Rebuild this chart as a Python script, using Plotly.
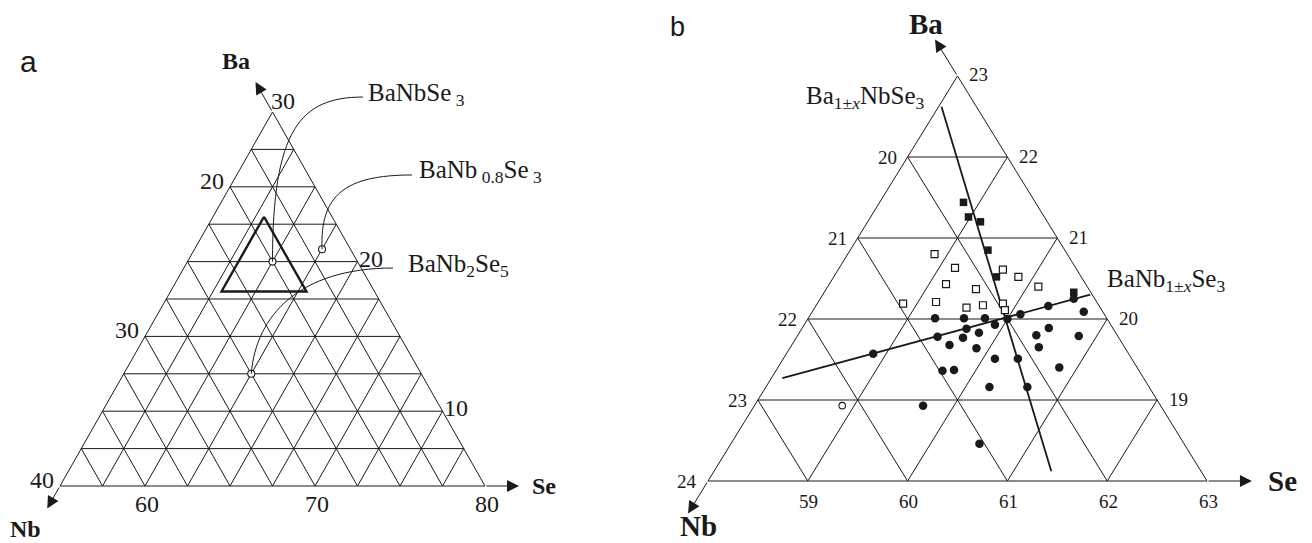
import plotly.graph_objects as go

W, H = 1312, 543
INK = "#1a1a1a"
SERIF = "Liberation Serif, Times New Roman, serif"
SANS = "Liberation Sans, Arial, sans-serif"
NB = "\u00a0"

# ---------------- panel a: Ba 5-30 / Se 55-80 / Nb 15-40 at.%, 2.5 at.% grid ----------------
A_MIN = {"Ba": 5.0, "Se": 55.0, "Nb": 15.0}
A_STEP = 2.5
A_TICKS_BA = [10, 20, 30]   # right edge
A_TICKS_NB = [20, 30, 40]   # left edge
A_TICKS_SE = [60, 70, 80]   # bottom edge

A_PHASE_LABELS = ["BaNbSe<sub>" + NB + "3</sub>",
                  "BaNb<sub>" + NB + "0.8</sub>Se<sub>" + NB + "3</sub>",
                  "BaNb<sub>2</sub>Se<sub>5</sub>"]
A_PHASE_BA = [20.0, 20.83, 12.5]
A_PHASE_SE = [60.0, 62.5, 62.5]

# ---------------- panel b: Ba 18-23 / Se 58-63 / Nb 19-24 at.%, 1 at.% grid ----------------
B_MIN = {"Ba": 18.0, "Se": 58.0, "Nb": 19.0}
B_STEP = 1.0
B_TICKS_BA = [19, 20, 21, 22, 23]
B_TICKS_NB = [20, 21, 22, 23, 24]
B_TICKS_SE = [59, 60, 61, 62, 63]

# measured compositions (Ba at.%, Se at.%)
FILLED_CIRCLE_BA = [20.01, 20.01, 20.01, 20.0, 20.06, 20.16, 20.25, 20.09, 19.93, 19.88,
                    19.83, 19.78, 19.77, 19.68, 19.64, 19.80, 19.89, 19.79, 19.65, 19.57,
                    19.51, 19.51, 19.36, 19.37, 19.40, 19.16, 19.16, 18.93, 18.46]
FILLED_CIRCLE_SE = [59.27, 59.56, 59.77, 60.0, 60.10, 60.33, 60.54, 60.72, 59.91, 59.65,
                    59.80, 59.41, 59.67, 59.58, 59.87, 60.39, 60.47, 60.82, 60.49, 58.87,
                    60.12, 60.35, 59.67, 59.78, 60.82, 60.24, 60.62, 59.69, 60.49]
FILLED_SQUARE_BA = [21.44, 21.26, 21.20, 20.85, 20.52, 20.33]
FILLED_SQUARE_SE = [58.84, 58.98, 59.13, 59.38, 59.63, 60.50]
OPEN_SQUARE_BA = [20.80, 20.63, 20.61, 20.52, 20.43, 20.37, 20.40, 20.19, 20.21, 20.14,
                  20.17, 20.19, 20.11]
OPEN_SQUARE_SE = [58.87, 59.16, 59.65, 59.85, 59.17, 59.50, 60.11, 58.86, 59.18, 59.52,
                  59.67, 59.86, 59.92]
OPEN_CIRCLE_BA = [18.93]
OPEN_CIRCLE_SE = [58.88]

# solid-solution lines through BaNbSe3 (end points, Ba / Se at.%)
LINE_BA_VAR_BA = [22.62, 18.12]     # Ba(1±x)NbSe3
LINE_BA_VAR_SE = [58.03, 61.38]
LINE_NB_VAR_BA = [19.27, 20.30]     # BaNb(1±x)Se3
LINE_NB_VAR_SE = [58.11, 60.68]


def tx(ba, se):
    """Horizontal position in the Gibbs triangle (Nb corner left, Se corner right)."""
    return se + ba / 2.0


def grid_xy(mins, step):
    ba0, se0, nb0 = mins["Ba"], mins["Se"], mins["Nb"]
    side = 100.0 - ba0 - se0 - nb0
    n = int(round(side / step))
    xs, ys = [], []

    def seg(p, q):
        xs.extend([tx(*p), tx(*q), None])
        ys.extend([p[0], q[0], None])

    for k in range(n):
        v = k * step
        b = ba0 + v
        seg((b, se0), (b, 100 - nb0 - b))            # constant Ba
        e = se0 + v
        seg((ba0, e), (100 - nb0 - e, e))            # constant Se
        m = nb0 + v
        seg((ba0, 100 - m - ba0), (100 - m - se0, se0))  # constant Nb
    return xs, ys


def axis_ranges(x0, px0, sx, y0, py0, sy):
    xr = [x0 - px0 / sx, x0 + (W - px0) / sx]
    yr = [y0 - (H - py0) / sy, y0 + py0 / sy]
    return xr, yr


A_XR, A_YR = axis_ranges(57.5, 60, 17.0, 5.0, 486, 14.96)
B_XR, B_YR = axis_ranges(67.0, 708, 99.8, 18.0, 481, 81.0)

fig = go.Figure()

# ---- panel a ----
gx, gy = grid_xy(A_MIN, A_STEP)
fig.add_trace(go.Scatter(x=gx, y=gy, mode="lines", line=dict(color=INK, width=1),
                         hoverinfo="skip", xaxis="x", yaxis="y"))
# region enlarged in panel b
tri_ba = [B_MIN["Ba"] + 5, B_MIN["Ba"], B_MIN["Ba"], B_MIN["Ba"] + 5]
tri_se = [B_MIN["Se"], B_MIN["Se"], B_MIN["Se"] + 5, B_MIN["Se"]]
fig.add_trace(go.Scatter(x=[tx(b, s) for b, s in zip(tri_ba, tri_se)], y=tri_ba, mode="lines",
                         line=dict(color=INK, width=2.4), hoverinfo="skip",
                         xaxis="x", yaxis="y"))

# ---- panel b ----
gx, gy = grid_xy(B_MIN, B_STEP)
fig.add_trace(go.Scatter(x=gx, y=gy, mode="lines", line=dict(color=INK, width=1),
                         hoverinfo="skip", xaxis="x2", yaxis="y2"))
for lb, ls in ((LINE_BA_VAR_BA, LINE_BA_VAR_SE), (LINE_NB_VAR_BA, LINE_NB_VAR_SE)):
    fig.add_trace(go.Scatter(x=[tx(b, s) for b, s in zip(lb, ls)], y=lb, mode="lines",
                             line=dict(color=INK, width=1.8), hoverinfo="skip",
                             xaxis="x2", yaxis="y2"))

fig.add_trace(go.Scatter(x=[tx(b, s) for b, s in zip(OPEN_SQUARE_BA, OPEN_SQUARE_SE)],
                         y=OPEN_SQUARE_BA, mode="markers",
                         marker=dict(symbol="square", size=7, color="white",
                                     line=dict(color=INK, width=1.2)),
                         xaxis="x2", yaxis="y2"))
fig.add_trace(go.Scatter(x=[tx(b, s) for b, s in zip(FILLED_SQUARE_BA, FILLED_SQUARE_SE)],
                         y=FILLED_SQUARE_BA, mode="markers",
                         marker=dict(symbol="square", size=7.5, color=INK),
                         xaxis="x2", yaxis="y2"))
fig.add_trace(go.Scatter(x=[tx(b, s) for b, s in zip(FILLED_CIRCLE_BA, FILLED_CIRCLE_SE)],
                         y=FILLED_CIRCLE_BA, mode="markers",
                         marker=dict(symbol="circle", size=8.5, color=INK),
                         xaxis="x2", yaxis="y2"))
fig.add_trace(go.Scatter(x=[tx(b, s) for b, s in zip(OPEN_CIRCLE_BA, OPEN_CIRCLE_SE)],
                         y=OPEN_CIRCLE_BA, mode="markers",
                         marker=dict(symbol="circle", size=6.5, color="white",
                                     line=dict(color=INK, width=1.1)),
                         xaxis="x2", yaxis="y2"))

# ---- panel a: phase markers and call-out curves ----
ph_x = [tx(b, s) for b, s in zip(A_PHASE_BA, A_PHASE_SE)]
# call-out: (control 1, control 2, end) in diagram units, label left edge
CALLOUTS = [((70.0, 28.8), (71.62, 31.0), (75.32, 31.0), 75.5),
            ((72.79, 24.45), (74.26, 25.79), (78.21, 25.79), 78.5),
            ((69.03, 16.43), (71.62, 19.57), (77.09, 19.57), 77.85)]
shapes = []
annotations = []
for (c1, c2, end, lab_x), x0, y0, label in zip(CALLOUTS, ph_x, A_PHASE_BA, A_PHASE_LABELS):
    path = f"M{x0},{y0} C{c1[0]},{c1[1]} {c2[0]},{c2[1]} {end[0]},{end[1]}"
    shapes.append(dict(type="path", path=path, xref="x", yref="y",
                       line=dict(color=INK, width=1)))
    annotations.append(dict(x=lab_x, y=end[1], xref="x", yref="y", text=label,
                            showarrow=False, xanchor="left", yanchor="middle", yshift=3,
                            font=dict(family=SERIF, size=25, color=INK)))
fig.add_trace(go.Scatter(x=ph_x, y=A_PHASE_BA, mode="markers",
                         marker=dict(symbol="circle", size=7, color="white",
                                     line=dict(color=INK, width=1.1)),
                         xaxis="x", yaxis="y"))


def tick_labels(mins, ticks_ba, ticks_nb, ticks_se, xr, yr, size, sh):
    out = []
    ba0, se0, nb0 = mins["Ba"], mins["Se"], mins["Nb"]
    top = max(ticks_ba)
    for v in ticks_ba:    # right edge, Nb constant
        se = 100 - nb0 - v
        dx, dy = sh["top"] if v == top else sh["right"]
        out.append(dict(x=tx(v, se), y=v, xref=xr, yref=yr, text=str(v), showarrow=False,
                        xanchor="left", yanchor="middle", xshift=dx, yshift=dy,
                        font=dict(family=SERIF, size=size, color=INK)))
    for v in ticks_nb:    # left edge, Se constant
        ba = 100 - v - se0
        dx, dy = sh["left"]
        out.append(dict(x=tx(ba, se0), y=ba, xref=xr, yref=yr, text=str(v), showarrow=False,
                        xanchor="right", yanchor="middle", xshift=dx, yshift=dy,
                        font=dict(family=SERIF, size=size, color=INK)))
    for v in ticks_se:    # bottom edge, Ba constant
        dx, dy = sh["bottom"]
        out.append(dict(x=tx(ba0, v), y=ba0, xref=xr, yref=yr, text=str(v), showarrow=False,
                        xanchor="center", yanchor="top", xshift=dx, yshift=dy,
                        font=dict(family=SERIF, size=size, color=INK)))
    return out


annotations += tick_labels(A_MIN, A_TICKS_BA, A_TICKS_NB, A_TICKS_SE, "x", "y", 24,
                           {"top": (-4, 11), "right": (-1, 3), "left": (-4, 6),
                            "bottom": (2, -3)})
annotations += tick_labels(B_MIN, B_TICKS_BA, B_TICKS_NB, B_TICKS_SE, "x2", "y2", 19,
                           {"top": (9, 2), "right": (10, 1), "left": (-9, 0),
                            "bottom": (1, -8)})


def axis_arrows(xr, yr, arrows, size):
    out = []
    for name, (tb, ts), (hb, hs), (dx, dy) in arrows:
        out.append(dict(x=tx(hb, hs), y=hb, ax=tx(tb, ts), ay=tb, xref=xr, yref=yr,
                        axref=xr, ayref=yr, showarrow=True, arrowhead=2, arrowsize=2.4,
                        arrowwidth=1, arrowcolor=INK, standoff=0, text=""))
        out.append(dict(x=tx(hb, hs), y=hb, xref=xr, yref=yr, text=f"<b>{name}</b>",
                        showarrow=False, xanchor="center", yanchor="middle",
                        xshift=dx, yshift=dy, borderpad=0,
                        font=dict(family=SERIF, size=size, color=INK)))
    return out


annotations += axis_arrows("x", "y", [
    ("Ba", (30, 55), (32, 53), (-20, 21)),
    ("Nb", (5, 55), (3.5, 55), (-22, -21)),
    ("Se", (5, 80), (5, 82), (25, 0)),
], 24)
annotations += axis_arrows("x2", "y2", [
    ("Ba", (23, 58), (23.45, 57.55), (-9, 16)),
    ("Nb", (18, 58), (17.6, 58), (10, -13)),
    ("Se", (18, 63), (18, 63.45), (31, 0)),
], 29)

# solid-solution labels in panel b
annotations.append(dict(x=68.57, y=22.74, xref="x2", yref="y2",
                        text="Ba<sub>1±<i>x</i></sub>NbSe<sub>3</sub>", showarrow=False,
                        xanchor="center", yanchor="middle",
                        font=dict(family=SERIF, size=25, color=INK)))
annotations.append(dict(x=70.98, y=20.47, xref="x2", yref="y2",
                        text="BaNb<sub>1±<i>x</i></sub>Se<sub>3</sub>", showarrow=False,
                        xanchor="left", yanchor="middle",
                        font=dict(family=SERIF, size=25, color=INK)))

# panel letters
annotations.append(dict(x=28.5 / W, y=1 - 61 / H, xref="paper", yref="paper", text="a",
                        showarrow=False, xanchor="center", yanchor="middle",
                        font=dict(family=SANS, size=30, color=INK)))
annotations.append(dict(x=677 / W, y=1 - 27 / H, xref="paper", yref="paper", text="b",
                        showarrow=False, xanchor="center", yanchor="middle",
                        font=dict(family=SANS, size=27, color=INK)))

hidden = dict(visible=False, showgrid=False, zeroline=False, fixedrange=True)
fig.update_layout(
    width=W, height=H, margin=dict(l=0, r=0, t=0, b=0),
    paper_bgcolor="white", plot_bgcolor="white", showlegend=False,
    xaxis=dict(range=A_XR, domain=[0, 1], **hidden),
    yaxis=dict(range=A_YR, domain=[0, 1], **hidden),
    xaxis2=dict(range=B_XR, domain=[0, 1], overlaying="x", **hidden),
    yaxis2=dict(range=B_YR, domain=[0, 1], overlaying="y", **hidden),
    shapes=shapes, annotations=annotations,
)

fig.write_html("out.html")
